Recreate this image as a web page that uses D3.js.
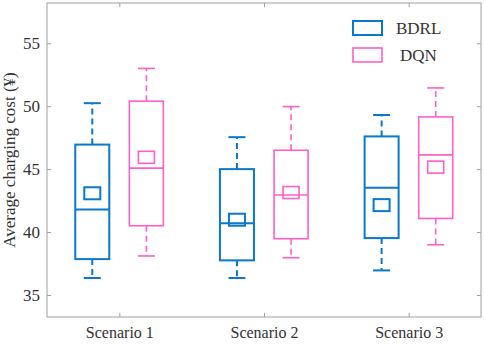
<!DOCTYPE html>
<html><head><meta charset="utf-8">
<script src="https://cdn.jsdelivr.net/npm/d3@7"></script>
<style>body{margin:0;background:#fff}svg{display:block}svg text{font-family:"Liberation Serif","Times New Roman",serif !important;fill:#333}</style>
</head><body><div id="c"></div>
<script>
const categories = ["Scenario 1","Scenario 2","Scenario 3"];
const seriesNames = ["BDRL","DQN"];
// [lowWhisker, Q1, median, Q3, highWhisker, mean]
const bdrl = [[36.35,37.85,41.8,46.95,50.24,43.08],[36.35,37.75,40.7,45.0,47.54,40.98],[36.95,39.52,43.52,47.6,49.3,42.14]];
const dqn  = [[38.1,40.5,45.08,50.4,53.0,45.94],[37.96,39.47,42.94,46.5,49.97,43.14],[38.99,41.08,46.13,49.15,51.45,45.16]];
const yTicks = [35,40,45,50,55];
const colors = ["#0a78cc","#ff5fc8"];

const W=484,H=344, m={l:47,t:3,r:3,b:27};
const svg=d3.select("#c").append("svg").attr("width",W).attr("height",H);
const x=d3.scaleLinear().domain([0.5,3.5]).range([m.l,W-m.r]);
const y=d3.scaleLinear().domain([33.25,58.2]).range([H-m.b,m.t]);
const off=0.187;

// frame
svg.append("rect").attr("x",m.l).attr("y",m.t).attr("width",W-m.r-m.l).attr("height",H-m.b-m.t).attr("fill","none").attr("stroke","#a0a0a0").attr("stroke-width",1);
const gy=svg.append("g").attr("transform",`translate(${m.l},0)`).call(d3.axisLeft(y).tickValues(yTicks).tickSize(-4).tickPadding(7));
const gyr=svg.append("g").attr("transform",`translate(${W-m.r},0)`).call(d3.axisRight(y).tickValues(yTicks).tickSize(-4).tickFormat(""));
const gx=svg.append("g").attr("transform",`translate(0,${H-m.b})`).call(d3.axisBottom(x).tickValues([1,2,3]).tickSize(-4).tickPadding(10).tickFormat((d,i)=>categories[i]));
const gxt=svg.append("g").attr("transform",`translate(0,${m.t})`).call(d3.axisTop(x).tickValues([1,2,3]).tickSize(-4).tickFormat(""));
[gy,gyr,gx,gxt].forEach(g=>{g.attr("font-family",null).attr("font-size",null);g.select(".domain").remove();g.selectAll("line").attr("stroke","#a0a0a0");g.selectAll("text").style("font-size","17px").style("fill","#333");});
gx.selectAll("text").style("font-size","16px");

svg.append("text").attr("transform",`translate(15,${(m.t+H-m.b)/2}) rotate(-90)`).attr("text-anchor","middle").style("font-size","17px").text("Average charging cost (¥)");

[bdrl,dqn].forEach((data,si)=>{
  const c=colors[si], sw= si===0?2:1.6;
  data.forEach((d,i)=>{
    const cx=x(i+1+(si===0?-off:off));
    const g=svg.append("g").attr("stroke",c).attr("fill","none").attr("stroke-width",sw);
    const hw=17, cap=8.5;
    g.append("line").attr("x1",cx).attr("x2",cx).attr("y1",y(d[3])).attr("y2",y(d[4])).attr("stroke-dasharray","6,4");
    g.append("line").attr("x1",cx).attr("x2",cx).attr("y1",y(d[1])).attr("y2",y(d[0])).attr("stroke-dasharray","6,4");
    g.append("line").attr("x1",cx-cap).attr("x2",cx+cap).attr("y1",y(d[4])).attr("y2",y(d[4]));
    g.append("line").attr("x1",cx-cap).attr("x2",cx+cap).attr("y1",y(d[0])).attr("y2",y(d[0]));
    g.append("rect").attr("x",cx-hw).attr("width",2*hw).attr("y",y(d[3])).attr("height",y(d[1])-y(d[3]));
    g.append("line").attr("x1",cx-hw).attr("x2",cx+hw).attr("y1",y(d[2])).attr("y2",y(d[2]));
    g.append("rect").attr("x",cx-8).attr("width",16).attr("y",y(d[5])-6).attr("height",12);
  });
});

// legend
seriesNames.forEach((s,i)=>{
  const ly=21+i*27;
  svg.append("rect").attr("x",353).attr("y",ly).attr("width",29).attr("height",14).attr("fill","none").attr("stroke",colors[i]).attr("stroke-width",i===0?2:1.6);
  svg.append("text").attr("x",i===0?396:400).attr("y",ly+13).style("font-size","17px").text(s);
});
</script></body></html>
